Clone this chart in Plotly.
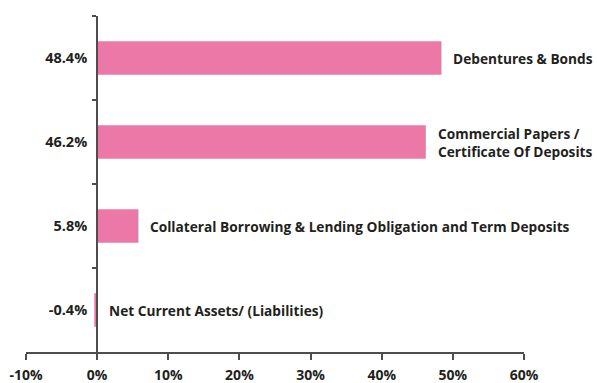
import plotly.graph_objects as go

categories = ['Debentures & Bonds',
              'Commercial Papers /<br>Certificate Of Deposits',
              'Collateral Borrowing & Lending Obligation and Term Deposits',
              'Net Current Assets/ (Liabilities)']
values = [48.4, 46.2, 5.8, -0.4]
value_labels = ['48.4%', '46.2%', '5.8%', '-0.4%']
x_ticks = [-10, 0, 10, 20, 30, 40, 50, 60]
x_tick_labels = ['-10%', '0%', '10%', '20%', '30%', '40%', '50%', '60%']

font_name = 'Open Sans'
text_color = '#231f20'
axis_color = '#4d4d4d'
bar_color = '#ec78a7'

fig = go.Figure()
fig.add_trace(go.Bar(x=values, y=categories, orientation='h',
                     marker=dict(color=bar_color, line=dict(width=0)),
                     width=0.4, hoverinfo='x+y'))

# category names written right of each bar
for c, v in zip(categories, values):
    fig.add_annotation(x=max(v, 0), y=c, text='<b>%s</b>' % c,
                       xanchor='left', yanchor='middle', align='left',
                       xshift=10, showarrow=False,
                       font=dict(family=font_name, size=13.7, color=text_color))

fig.update_layout(width=597, height=383,
                  margin=dict(l=26, r=73, t=16, b=31),
                  paper_bgcolor='white', plot_bgcolor='white',
                  showlegend=False,
                  font=dict(family=font_name, size=14, color=text_color))

fig.update_xaxes(range=[-10, 60], tickmode='array', tickvals=x_ticks,
                 ticktext=x_tick_labels, automargin=False,
                 showgrid=False, zeroline=False,
                 showline=True, linecolor=axis_color, linewidth=1.5,
                 ticks='outside', ticklen=6, tickwidth=1.5, tickcolor=axis_color,
                 tickfont=dict(family=font_name, size=14, color=text_color, weight='bold'),
                 ticklabelstandoff=3)

fig.update_yaxes(type='category', categoryorder='array', categoryarray=categories,
                 range=[3.5, -0.5], anchor='free', position=1/7, automargin=False,
                 showgrid=False, zeroline=False,
                 showline=True, linecolor=axis_color, linewidth=2,
                 ticks='outside', tickson='boundaries', ticklen=4,
                 tickwidth=1.5, tickcolor=axis_color,
                 labelalias=dict(zip(categories, value_labels)),
                 tickfont=dict(family=font_name, size=14.5, color=text_color, weight='bold'),
                 ticklabelstandoff=6)

fig.write_html("out.html", config={'displayModeBar': False},
               post_script="document.body.style.margin='0';")
